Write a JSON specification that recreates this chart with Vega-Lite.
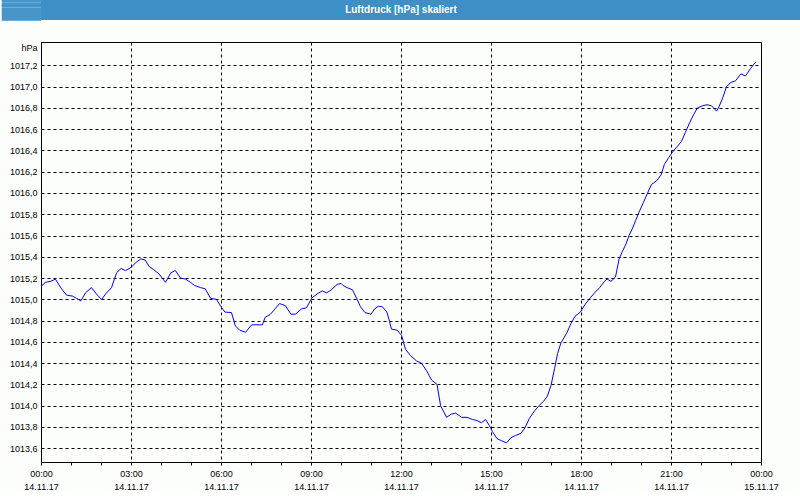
{
  "$schema": "https://vega.github.io/schema/vega-lite/v6.json",
  "padding": 0,
  "background": "#fcfefc",
  "spacing": 20,
  "vconcat": [
    {
      "width": 760,
      "height": 20,
      "view": {"fill": "#3d8fc6", "strokeWidth": 0},
      "data": {"values": [{"title": "Luftdruck [hPa] skaliert"}]},
      "mark": {"type": "text", "color": "white", "fontWeight": "bold", "fontSize": 10, "font": "Liberation Sans", "baseline": "middle", "align": "center", "dx": -20},
      "encoding": {
        "text": {"field": "title"},
        "y": {
          "datum": 1, "type": "quantitative",
          "scale": {"domain": [0, 2]},
          "axis": {"title": null, "labels": false, "domain": false, "grid": false, "translate": 0,
            "values": [0.05, 0.15, 0.25, 0.35, 0.45, 0.55, 0.65, 0.75, 0.85, 0.95, 1.05, 1.15, 1.25, 1.35, 1.45, 1.55, 1.65, 1.75, 1.85, 1.95],
            "ticks": true, "tickColor": "#3d8fc6", "tickSize": 39.2, "tickWidth": 1.5, "minExtent": 40, "maxExtent": 40}
        }
      }
    },
    {
      "width": 720,
      "height": 420,
      "view": {"stroke": "black", "strokeWidth": 1, "fill": "#fcfefc"},
      "data": {"values": [
        {"h":0,"p":1015.12},{"h":0.15,"p":1015.16},{"h":0.33,"p":1015.17},{"h":0.48,"p":1015.19},{"h":0.68,"p":1015.10},{"h":0.85,"p":1015.04},
        {"h":1.05,"p":1015.03},{"h":1.18,"p":1015.01},{"h":1.33,"p":1014.985},{"h":1.48,"p":1015.06},{"h":1.68,"p":1015.11},{"h":1.85,"p":1015.05},
        {"h":2.02,"p":1014.997},{"h":2.15,"p":1015.05},{"h":2.35,"p":1015.11},{"h":2.52,"p":1015.25},{"h":2.67,"p":1015.29},{"h":2.82,"p":1015.27},
        {"h":3,"p":1015.30},{"h":3.18,"p":1015.35},{"h":3.33,"p":1015.38},{"h":3.47,"p":1015.37},{"h":3.6,"p":1015.31},{"h":3.75,"p":1015.28},
        {"h":3.93,"p":1015.24},{"h":4.15,"p":1015.16},{"h":4.33,"p":1015.25},{"h":4.48,"p":1015.27},{"h":4.65,"p":1015.20},{"h":4.82,"p":1015.19},
        {"h":4.98,"p":1015.16},{"h":5.12,"p":1015.13},{"h":5.32,"p":1015.11},{"h":5.47,"p":1015.10},{"h":5.65,"p":1015.01},{"h":5.85,"p":1015.00},
        {"h":6,"p":1014.93},{"h":6.13,"p":1014.88},{"h":6.35,"p":1014.875},{"h":6.48,"p":1014.75},{"h":6.62,"p":1014.71},{"h":6.82,"p":1014.69},
        {"h":7.02,"p":1014.76},{"h":7.2,"p":1014.76},{"h":7.38,"p":1014.76},{"h":7.47,"p":1014.83},{"h":7.65,"p":1014.86},{"h":7.8,"p":1014.91},
        {"h":7.95,"p":1014.96},{"h":8.15,"p":1014.94},{"h":8.33,"p":1014.86},{"h":8.48,"p":1014.86},{"h":8.68,"p":1014.91},{"h":8.85,"p":1014.92},
        {"h":9.02,"p":1015.01},{"h":9.2,"p":1015.05},{"h":9.38,"p":1015.08},{"h":9.52,"p":1015.06},{"h":9.68,"p":1015.09},{"h":9.87,"p":1015.14},
        {"h":10,"p":1015.15},{"h":10.07,"p":1015.13},{"h":10.2,"p":1015.11},{"h":10.38,"p":1015.09},{"h":10.52,"p":1015.01},{"h":10.65,"p":1014.93},
        {"h":10.8,"p":1014.875},{"h":11,"p":1014.86},{"h":11.12,"p":1014.91},{"h":11.25,"p":1014.935},{"h":11.38,"p":1014.93},{"h":11.53,"p":1014.88},
        {"h":11.62,"p":1014.79},{"h":11.68,"p":1014.72},{"h":11.87,"p":1014.71},{"h":12.02,"p":1014.66},{"h":12.15,"p":1014.53},{"h":12.32,"p":1014.47},
        {"h":12.52,"p":1014.42},{"h":12.68,"p":1014.40},{"h":12.85,"p":1014.33},{"h":13.02,"p":1014.24},{"h":13.2,"p":1014.20},{"h":13.32,"p":1014.00},
        {"h":13.52,"p":1013.89},{"h":13.67,"p":1013.92},{"h":13.82,"p":1013.93},{"h":14.02,"p":1013.89},{"h":14.2,"p":1013.89},{"h":14.38,"p":1013.87},
        {"h":14.53,"p":1013.86},{"h":14.68,"p":1013.84},{"h":14.82,"p":1013.87},{"h":14.95,"p":1013.81},{"h":15.05,"p":1013.755},{"h":15.2,"p":1013.69},
        {"h":15.35,"p":1013.67},{"h":15.52,"p":1013.65},{"h":15.67,"p":1013.70},{"h":15.82,"p":1013.72},{"h":16,"p":1013.74},{"h":16.13,"p":1013.79},
        {"h":16.28,"p":1013.88},{"h":16.45,"p":1013.95},{"h":16.6,"p":1014.00},{"h":16.75,"p":1014.04},{"h":16.88,"p":1014.09},{"h":17,"p":1014.19},
        {"h":17.12,"p":1014.35},{"h":17.22,"p":1014.49},{"h":17.33,"p":1014.59},{"h":17.52,"p":1014.68},{"h":17.67,"p":1014.775},{"h":17.8,"p":1014.84},
        {"h":17.98,"p":1014.88},{"h":18.13,"p":1014.95},{"h":18.27,"p":1015.00},{"h":18.45,"p":1015.06},{"h":18.62,"p":1015.11},{"h":18.8,"p":1015.175},
        {"h":18.87,"p":1015.19},{"h":19,"p":1015.17},{"h":19.15,"p":1015.21},{"h":19.27,"p":1015.38},{"h":19.38,"p":1015.45},{"h":19.5,"p":1015.52},
        {"h":19.6,"p":1015.60},{"h":19.72,"p":1015.67},{"h":19.82,"p":1015.74},{"h":19.95,"p":1015.83},{"h":20.08,"p":1015.91},{"h":20.22,"p":1016.00},
        {"h":20.35,"p":1016.08},{"h":20.52,"p":1016.115},{"h":20.67,"p":1016.17},{"h":20.78,"p":1016.27},{"h":20.93,"p":1016.335},{"h":21.05,"p":1016.385},
        {"h":21.2,"p":1016.435},{"h":21.35,"p":1016.485},{"h":21.48,"p":1016.57},{"h":21.62,"p":1016.66},{"h":21.75,"p":1016.735},{"h":21.88,"p":1016.80},
        {"h":22.05,"p":1016.82},{"h":22.2,"p":1016.83},{"h":22.35,"p":1016.82},{"h":22.52,"p":1016.77},{"h":22.6,"p":1016.81},{"h":22.73,"p":1016.90},
        {"h":22.85,"p":1017.00},{"h":23,"p":1017.04},{"h":23.15,"p":1017.055},{"h":23.33,"p":1017.12},{"h":23.48,"p":1017.10},{"h":23.65,"p":1017.17},
        {"h":23.82,"p":1017.23}
      ]},
      "encoding": {
        "y": {
          "field": "p", "type": "quantitative",
          "scale": {"domain": [1013.47, 1017.42], "nice": false, "zero": false},
          "axis": {
            "title": "hPa",
            "titleAngle": 0,
            "titleAlign": "right",
            "titleBaseline": "alphabetic",
            "titleX": -4,
            "titleY": 8,
            "titleFont": "Liberation Sans",
            "titleFontSize": 9,
            "titleFontWeight": "normal",
            "titleColor": "black",
            "values": [1013.6, 1013.8, 1014.0, 1014.2, 1014.4, 1014.6, 1014.8, 1015.0, 1015.2, 1015.4, 1015.6, 1015.8, 1016.0, 1016.2, 1016.4, 1016.6, 1016.8, 1017.0, 1017.2],
            "labelExpr": "floor(datum.value + 0.001) + ',' + (round(datum.value * 10) % 10)",
            "labelFont": "Liberation Sans",
            "labelFontSize": 9,
            "labelColor": "black",
            "labelPadding": 4,
            "ticks": false,
            "domainColor": "black",
            "grid": true,
            "gridColor": "black",
            "gridDash": [3, 3],
            "minExtent": 40,
            "maxExtent": 40
          }
        }
      },
      "layer": [
        {
          "mark": {"type": "line", "color": "#0000ff", "strokeWidth": 1},
          "encoding": {
            "x": {
              "field": "h", "type": "quantitative",
              "scale": {"domain": [0, 24], "nice": false, "zero": false},
              "axis": {
                "title": null,
                "values": [0,1,2,3,4,5,6,7,8,9,10,11,12,13,14,15,16,17,18,19,20,21,22,23,24],
                "labelExpr": "datum.value % 3 == 0 ? ((datum.value % 24 < 10 ? '0' : '') + (datum.value % 24) + ':00') : ''",
                "labelOverlap": false,
                "labelFlush": false,
                "labelFont": "Liberation Sans",
                "labelFontSize": 9,
                "labelColor": "black",
                "labelPadding": 4,
                "labelBaseline": "top",
                "tickSize": 3,
                "tickColor": "black",
                "domainColor": "black",
                "grid": false
              }
            }
          }
        },
        {
          "mark": {"type": "line", "strokeOpacity": 0},
          "encoding": {
            "x": {
              "field": "h", "type": "quantitative",
              "axis": {
                "title": null,
                "orient": "bottom",
                "values": [0,3,6,9,12,15,18,21,24],
                "labelExpr": "datum.value == 24 ? '15.11.17' : '14.11.17'",
                "labelOverlap": false,
                "labelFlush": false,
                "labelFont": "Liberation Sans",
                "labelFontSize": 9,
                "labelColor": "black",
                "labelPadding": 20,
                "labelBaseline": "top",
                "ticks": false,
                "domain": false,
                "grid": true,
                "gridColor": "black",
                "gridDash": [3, 3]
              }
            }
          }
        }
      ],
      "resolve": {"axis": {"x": "independent"}}
    }
  ]
}
